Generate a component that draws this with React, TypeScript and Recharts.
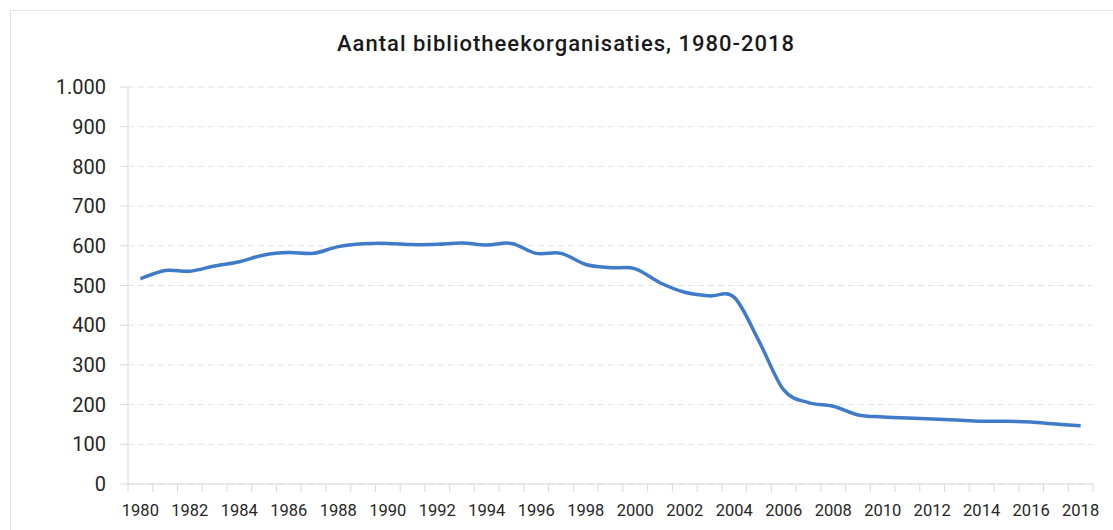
import React from "react";
import {
  LineChart,
  Line,
  XAxis,
  YAxis,
  CartesianGrid,
} from "recharts";

const years = [
  "1980", "1981", "1982", "1983", "1984", "1985", "1986", "1987", "1988", "1989",
  "1990", "1991", "1992", "1993", "1994", "1995", "1996", "1997", "1998", "1999",
  "2000", "2001", "2002", "2003", "2004", "2005", "2006", "2007", "2008", "2009",
  "2010", "2011", "2012", "2013", "2014", "2015", "2016", "2017", "2018",
];

const organisaties = [
  517, 538, 536, 549, 560, 577, 583, 581, 598, 605,
  606, 603, 604, 607, 602, 606, 581, 581, 553, 545,
  542, 507, 483, 474, 470, 360, 237, 205, 196, 174,
  169, 166, 164, 161, 158, 158, 156, 151, 147,
];

const yTicks = [0, 100, 200, 300, 400, 500, 600, 700, 800, 900, 1000];

const data = years.map((year, i) => ({ year, value: organisaties[i] }));

const FONT = "Roboto, 'Noto Sans', sans-serif";
const AXIS = "#d9d9d9";
const BLUE = "#3f7bc8";
const PLOT_LEFT = 128;
const PLOT_RIGHT = 1093;
const BAND = (PLOT_RIGHT - PLOT_LEFT) / years.length;

// excel-like smoothed line (catmull-rom through the points)
const smoothCurve = (context: any) => {
  let pts: number[][] = [];
  return {
    areaStart() {},
    areaEnd() {},
    lineStart() {
      pts = [];
    },
    point(x: number, y: number) {
      pts.push([+x, +y]);
    },
    lineEnd() {
      if (!pts.length) return;
      context.moveTo(pts[0][0], pts[0][1]);
      for (let i = 0; i < pts.length - 1; i++) {
        const p0 = pts[i - 1] || pts[i];
        const p1 = pts[i];
        const p2 = pts[i + 1];
        const p3 = pts[i + 2] || p2;
        context.bezierCurveTo(
          p1[0] + (p2[0] - p0[0]) / 6,
          p1[1] + (p2[1] - p0[1]) / 6,
          p2[0] - (p3[0] - p1[0]) / 6,
          p2[1] - (p3[1] - p1[1]) / 6,
          p2[0],
          p2[1]
        );
      }
    },
  };
};

const XTick = (props: any) => {
  const { x, y, payload } = props;
  const half = BAND / 2;
  const last = payload.value === years[years.length - 1];
  return (
    <g>
      <line x1={x - half} x2={x - half} y1={y} y2={y + 8} stroke={AXIS} />
      {last && <line x1={x + half} x2={x + half} y1={y} y2={y + 8} stroke={AXIS} />}
      {Number(payload.value) % 2 === 0 && (
        <text x={x} y={y + 32} textAnchor="middle" fontSize={16.5} fill="#262626" fontFamily={FONT}>
          {payload.value}
        </text>
      )}
    </g>
  );
};

const yFormatter = (v: number) =>
  v >= 1000 ? `${Math.floor(v / 1000)}.${String(v % 1000).padStart(3, "0")}` : String(v);

export default function App() {
  return (
    <div
      style={{
        position: "absolute",
        left: 0,
        top: 0,
        width: 1113,
        height: 530,
        overflow: "hidden",
        background: "#fff",
        fontFamily: FONT,
      }}
    >
      <div
        style={{
          position: "absolute",
          left: 10,
          top: 10,
          width: 1200,
          height: 600,
          border: "1px solid #e3e3e3",
        }}
      />
      <div
        style={{
          position: "absolute",
          left: 10,
          top: 31,
          width: 1112,
          textAlign: "center",
          fontSize: 22,
          letterSpacing: 1,
          fontWeight: 500,
          color: "#1a1a1a",
        }}
      >
        Aantal bibliotheekorganisaties, 1980-2018
      </div>
      <div style={{ position: "absolute", left: 0, top: 0 }}>
        <LineChart
          width={1113}
          height={530}
          data={data}
          margin={{ top: 87, right: 1113 - PLOT_RIGHT, bottom: 0, left: 28 }}
        >
          <CartesianGrid vertical={false} stroke="#e3e3e3" strokeDasharray="6 4" />
          <XAxis
            dataKey="year"
            type="category"
            interval={0}
            height={46}
            padding={{ left: BAND / 2, right: BAND / 2 }}
            axisLine={{ stroke: AXIS }}
            tickLine={false}
            tickSize={0}
            tickMargin={0}
            tick={<XTick />}
          />
          <YAxis
            width={PLOT_LEFT - 28}
            domain={[0, 1000]}
            ticks={yTicks}
            interval={0}
            axisLine={{ stroke: AXIS }}
            tickLine={{ stroke: AXIS }}
            tickSize={8}
            tickMargin={14}
            tickFormatter={yFormatter}
            tick={{ fontSize: 20, fill: "#262626", fontFamily: FONT }}
          />
          <Line
            dataKey="value"
            type={smoothCurve as any}
            stroke={BLUE}
            strokeWidth={3.5}
            dot={false}
            activeDot={false}
            isAnimationActive={false}
          />
        </LineChart>
      </div>
    </div>
  );
}
